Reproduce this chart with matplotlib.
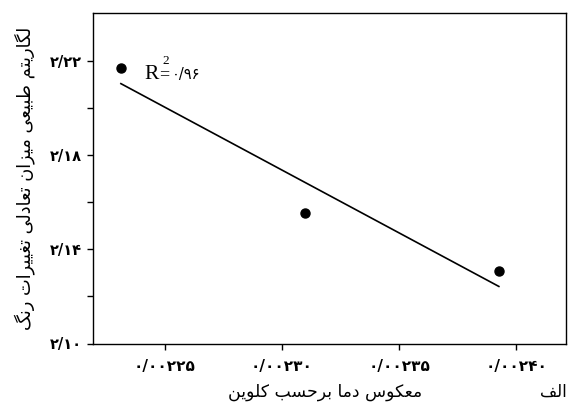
import matplotlib
matplotlib.use("Agg")
import matplotlib.pyplot as plt
import numpy as np

# ---------------- data ----------------
inv_temp = [0.0022314, 0.0023098, 0.0023925]   # 1/T (1/K)
ln_k = [2.2171, 2.1554, 2.1306]
r2_text = "۰/۹۶"
x_ticks = [0.00225, 0.00230, 0.00235, 0.00240]
x_tick_labels = ["۰/۰۰۲۲۵", "۰/۰۰۲۳۰", "۰/۰۰۲۳۵", "۰/۰۰۲۴۰"]
y_ticks = [2.10, 2.14, 2.18, 2.22]
y_tick_labels = ["۲/۱۰", "۲/۱۴", "۲/۱۸", "۲/۲۲"]
y_minor = [2.12, 2.16, 2.20]
x_label = "معکوس دما برحسب کلوین"
y_label = "لگاریتم طبیعی میزان تعادلی تغییرات رنگ"
panel_label = "الف"

# ------------- simple Persian shaping (presentation forms + visual order) -------------
FORMS = {
    'ا': ('\uFE8D', '\uFE8E', None, None),
    'ب': ('\uFE8F', '\uFE90', '\uFE91', '\uFE92'),
    'ت': ('\uFE95', '\uFE96', '\uFE97', '\uFE98'),
    'ح': ('\uFEA1', '\uFEA2', '\uFEA3', '\uFEA4'),
    'د': ('\uFEA9', '\uFEAA', None, None),
    'ر': ('\uFEAD', '\uFEAE', None, None),
    'ز': ('\uFEAF', '\uFEB0', None, None),
    'س': ('\uFEB1', '\uFEB2', '\uFEB3', '\uFEB4'),
    'ط': ('\uFEC1', '\uFEC2', '\uFEC3', '\uFEC4'),
    'ع': ('\uFEC9', '\uFECA', '\uFECB', '\uFECC'),
    'غ': ('\uFECD', '\uFECE', '\uFECF', '\uFED0'),
    'ف': ('\uFED1', '\uFED2', '\uFED3', '\uFED4'),
    'ل': ('\uFEDD', '\uFEDE', '\uFEDF', '\uFEE0'),
    'م': ('\uFEE1', '\uFEE2', '\uFEE3', '\uFEE4'),
    'ن': ('\uFEE5', '\uFEE6', '\uFEE7', '\uFEE8'),
    'و': ('\uFEED', '\uFEEE', None, None),
    'ک': ('\uFB8E', '\uFB8F', '\uFB90', '\uFB91'),
    'گ': ('\uFB92', '\uFB93', '\uFB94', '\uFB95'),
    'ی': ('\uFBFC', '\uFBFD', '\uFBFE', '\uFBFF'),
}


def shape(text):
    out = []
    n = len(text)
    for i, ch in enumerate(text):
        if ch not in FORMS:
            out.append(ch)
            continue
        iso, fin, ini, med = FORMS[ch]
        prev = text[i - 1] if i > 0 else None
        nxt = text[i + 1] if i + 1 < n else None
        join_prev = prev in FORMS and FORMS[prev][2] is not None
        join_next = ini is not None and nxt in FORMS
        if join_prev and join_next:
            g = med
        elif join_prev:
            g = fin
        elif join_next:
            g = ini
        else:
            g = iso
        out.append(g)
    return "".join(out[::-1])


W, H = 569, 403


def fx(px):
    return px / W


def fy(py):
    return 1 - py / H


# ---------------- figure ----------------
fig = plt.figure(figsize=(W / 100, H / 100), dpi=100)
ax = fig.add_axes([fx(92.5), fy(343.5), fx(565.5) - fx(92.5), fy(13) - fy(343.5)])

ax.plot(inv_temp, ln_k, "o", color="black", ms=6.5, zorder=3)
coef = np.polyfit(inv_temp, ln_k, 1)
xfit = np.array([min(inv_temp), max(inv_temp)])
ax.plot(xfit, np.polyval(coef, xfit), color="black", lw=1.2)

ax.set_xlim(0.0022193, 0.0024209)
ax.set_ylim(2.10, 2.2404)

ax.set_xticks(x_ticks)
ax.set_xticklabels(x_tick_labels, fontfamily="DejaVu Sans", fontsize=11, fontweight="bold")
ax.set_yticks(y_ticks)
ax.set_yticklabels(y_tick_labels, fontfamily="DejaVu Sans", fontsize=10.5, fontweight="bold")
ax.set_yticks(y_minor, minor=True)
ax.tick_params(axis="both", which="both", direction="out", length=4.5, width=1, color="black")
ax.tick_params(axis="x", pad=7)
ax.tick_params(axis="y", pad=3)
for s in ax.spines.values():
    s.set_linewidth(1.0)
    s.set_color("black")

fig.text(fx(325), fy(392), shape(x_label), ha="center", va="center", fontsize=12.4,
         fontfamily="DejaVu Sans")
fig.text(fx(25), fy(178), shape(y_label), ha="center", va="center", rotation=90,
         fontsize=12.8, fontfamily="DejaVu Sans")
fig.text(fx(567), fy(392), shape(panel_label), ha="right", va="center", fontsize=12,
         fontfamily="DejaVu Sans")

# R^2 annotation
fig.text(fx(144), fy(79), "R", fontsize=15.5, fontfamily="Liberation Serif",
         ha="left", va="baseline")
fig.text(fx(159), fy(79), "=", fontsize=13, fontfamily="Liberation Serif",
         ha="left", va="baseline")
fig.text(fx(162.5), fy(64), "2", fontsize=9.5, fontfamily="Liberation Serif",
         ha="left", va="baseline")
fig.text(fx(172), fy(79), r2_text, fontsize=10.5, fontfamily="DejaVu Sans",
         ha="left", va="baseline")

fig.savefig("out.png", dpi=100)
